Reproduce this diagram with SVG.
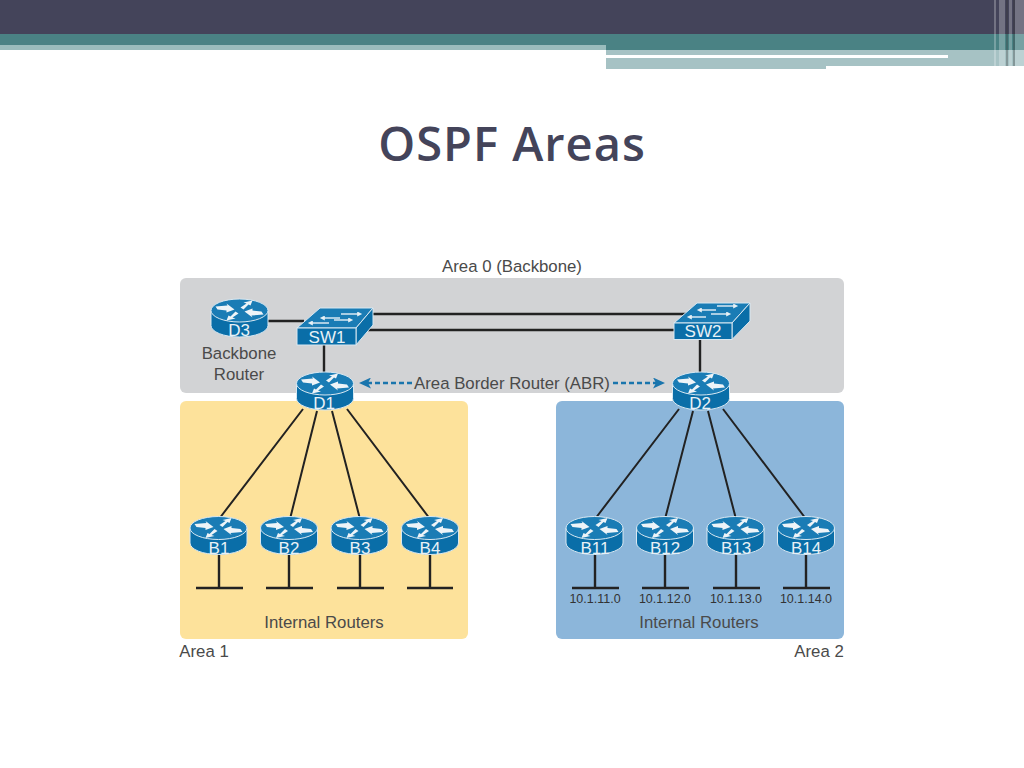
<svg xmlns="http://www.w3.org/2000/svg" xmlns:xlink="http://www.w3.org/1999/xlink" width="1024" height="768" viewBox="0 0 1024 768">
<style>
text{font-family:"Liberation Sans",Arial,sans-serif;fill:#4a4a4a}
.lbl{font-size:16.800px;text-anchor:middle}
.net{font-size:12.500px;text-anchor:middle;fill:#333}
.id{font-size:17px;text-anchor:middle;fill:#e8f1f6}
.ln{stroke:#222;stroke-width:2;fill:none}
.lk{stroke:#222;stroke-width:2.400;fill:none}
.dash{stroke:#1a75ad;stroke-width:2.500;stroke-dasharray:5 3;fill:none}
.sa{stroke:#e8f1f6;stroke-width:1.400;fill:none;marker-end:url(#wa)}
</style>
<defs>
<g id="router">
<path d="M-28.500-8V7A28.500 11.500 0 0 0 28.500 7V-8Z" fill="#0a6ea8" stroke="#d8e8f2" stroke-width="1"/>
<ellipse cx="0" cy="-8" rx="28.500" ry="11.500" fill="#1a7cb5" stroke="#d8e8f2" stroke-width="1"/>
<path d="M-24-12L-12-13L-13-15L-5-9L-13-6L-13-8L-22-9ZM24-4L12-3L13-1L5-7L13-10L13-8L22-7ZM1-11L7-15L4-16L13-18L11-13L9-14L4-9ZM-1-5L-7-1L-4 0L-13 2L-11-3L-9-2L-4-7Z" fill="#eef4f8"/>
</g>
<marker id="ah" viewBox="0 0 12 11" refX="4" refY="5.500" markerWidth="12" markerHeight="11" orient="auto" markerUnits="userSpaceOnUse"><path d="M0 0L12 5.500L0 11L3 5.500Z" fill="#1a75ad"/></marker>
<marker id="wa" viewBox="0 0 6 6" refX="1" refY="3" markerWidth="6" markerHeight="5" orient="auto" markerUnits="userSpaceOnUse"><path d="M0 0L6 3L0 6Z" fill="#e8f1f6"/></marker>
</defs>

<g id="header">
<rect x="0" y="0" width="1024" height="35" fill="#44445a"/>
<rect x="0" y="34" width="1024" height="11" fill="#4a8284"/>
<rect x="606" y="45" width="418" height="5" fill="#4a8284"/>
<rect x="0" y="45" width="606" height="5" fill="#9abcbc"/>
<rect x="606" y="50" width="418" height="16" fill="#a6c2c4"/>
<rect x="606" y="66" width="220" height="3" fill="#a6c2c4"/>
<rect x="606" y="55" width="342" height="3" fill="#fff"/>
<g fill="#fff" fill-opacity="0.25"><rect x="994" y="0" width="2" height="66"/><rect x="999" y="0" width="6" height="66"/><rect x="1009" y="0" width="3" height="69"/><rect x="1015" y="0" width="9" height="69"/></g>
<g fill="#333" fill-opacity="0.3"><rect x="1006" y="0" width="2" height="66"/><rect x="1013" y="0" width="2" height="66"/></g>
</g>

<text id="title" x="512" y="161" text-anchor="middle" letter-spacing="1" style="font-family:'Open Sans',sans-serif;font-size:47px;font-weight:600;fill:#44445a">OSPF Areas</text>

<g id="areas">
<rect x="180" y="278" width="664" height="115" rx="6" fill="#d2d3d5"/>
<rect x="180" y="401" width="288" height="238" rx="6" fill="#fde29b"/>
<rect x="556" y="401" width="288" height="238" rx="6" fill="#8cb6da"/>
</g>

<g id="connectors">
<path class="lk" d="M268 321H304M370 314H690M362 330H680M324 345V375M700 339V375"/>
<path class="ln" d="M303 409L219 519M317 411L290 519M332 411L360 519M347 409L430 519M679 409L595 519M693 411L665 519M708 411L736 519M723 409L806 519"/>
<path class="lk" d="M219 555V588M196 588H243M289 555V588M266 588H313M360 555V588M337 588H384M430 555V588M407 588H453M595 555V588M572 588H619M665 555V588M642 588H689M736 555V588M713 588H760M806 555V588M783 588H830"/>
<path class="dash" d="M412 383H367" marker-end="url(#ah)"/>
<path class="dash" d="M613 383H657" marker-end="url(#ah)"/>
</g>

<g id="D3"><use href="#router" x="239.500" y="318.500"/><text class="id" x="239" y="336">D3</text></g>
<g id="SW1"><path d="M297 328L320 308H373L356 328Z" fill="#1a7cb5" stroke="#d8e8f2"/><path d="M356 328L373 308V325L356 345Z" fill="#0a6ea8" stroke="#d8e8f2"/><rect x="297" y="328" width="59" height="17" fill="#0a6ea8" stroke="#d8e8f2"/><path class="sa" d="M340 318H324"/><path class="sa" d="M341 314H358"/><path class="sa" d="M329 323H312"/><path class="sa" d="M334 320H349"/><text class="id" x="327" y="343">SW1</text></g>
<g id="SW2"><path d="M674 323L697 303H750L732 323Z" fill="#1a7cb5" stroke="#d8e8f2"/><path d="M732 323L750 303V321L732 339.500Z" fill="#0a6ea8" stroke="#d8e8f2"/><rect x="674" y="323" width="58" height="16.500" fill="#0a6ea8" stroke="#d8e8f2"/><path class="sa" d="M716 310H701"/><path class="sa" d="M717 306H734"/><path class="sa" d="M706 317H691"/><path class="sa" d="M711 314H727"/><text class="id" x="703" y="337">SW2</text></g>
<g id="D1"><use href="#router" x="325" y="391.500"/><text class="id" x="324" y="409">D1</text></g>
<g id="D2"><use href="#router" x="701" y="391.500"/><text class="id" x="700" y="409">D2</text></g>
<g id="B1"><use href="#router" x="218.500" y="536"/><text class="id" x="219" y="554">B1</text></g>
<g id="B2"><use href="#router" x="289" y="536"/><text class="id" x="289" y="554">B2</text></g>
<g id="B3"><use href="#router" x="359.500" y="536"/><text class="id" x="360" y="554">B3</text></g>
<g id="B4"><use href="#router" x="430" y="536"/><text class="id" x="430" y="554">B4</text></g>
<g id="B11"><use href="#router" x="594.500" y="536"/><text class="id" x="595" y="554">B11</text></g>
<g id="B12"><use href="#router" x="665" y="536"/><text class="id" x="665" y="554">B12</text></g>
<g id="B13"><use href="#router" x="735.500" y="536"/><text class="id" x="736" y="554">B13</text></g>
<g id="B14"><use href="#router" x="806" y="536"/><text class="id" x="806" y="554">B14</text></g>

<g id="labels">
<text class="lbl" x="512" y="272">Area 0 (Backbone)</text>
<text class="lbl" x="239" y="359">Backbone</text>
<text class="lbl" x="239" y="380">Router</text>
<text class="lbl" x="512" y="389">Area Border Router (ABR)</text>
<text class="lbl" x="324" y="628">Internal Routers</text>
<text class="lbl" x="699" y="628">Internal Routers</text>
<text class="lbl" x="204" y="657">Area 1</text>
<text class="lbl" x="819" y="657">Area 2</text>
<text class="net" x="595" y="603">10.1.11.0</text>
<text class="net" x="665" y="603">10.1.12.0</text>
<text class="net" x="736" y="603">10.1.13.0</text>
<text class="net" x="806" y="603">10.1.14.0</text>
</g>
</svg>
